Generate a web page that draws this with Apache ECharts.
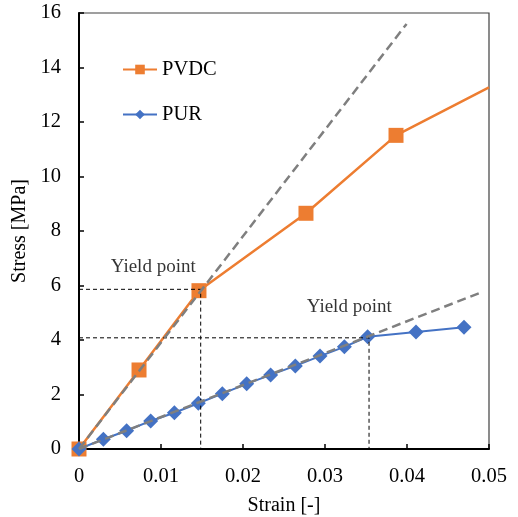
<!DOCTYPE html>
<html>
<head>
<meta charset="utf-8">
<script src="https://cdn.jsdelivr.net/npm/echarts@6/dist/echarts.min.js"></script>
<style>
  html, body { margin: 0; padding: 0; background: #fff; }
  #main { width: 518px; height: 517px; }
</style>
</head>
<body>
<div id="main"></div>
<script>
// measured points [strain, stress MPa]
var pvdc = [[0, 0], [0.00732, 2.90], [0.01463, 5.81], [0.02768, 8.65], [0.03866, 11.51]];
var pvdcEdge = [0.05, 13.27]; // line runs on to the plot edge, no marker there
var pur = [[0, 0], [0.00297, 0.36], [0.00581, 0.67], [0.00874, 1.03], [0.01163, 1.33], [0.01455, 1.68],
  [0.01748, 2.03], [0.02045, 2.39], [0.02337, 2.72], [0.02638, 3.05], [0.02939, 3.41], [0.03236, 3.75],
  [0.0352, 4.12], [0.0411, 4.29], [0.04695, 4.47]];
// linear fits (dashed gray)
var pvdcFit = [[0, 0], [0.03995, 15.6]];
var purFit = [[0, 0], [0.04923, 5.77]];
// yield point guide lines
var pvdcYield = [[0, 5.86], [0.01484, 5.86], [0.01484, 0]];
var purYield = [[0, 4.08], [0.03537, 4.08], [0.03537, 0]];
var yieldLabels = [[0.00387, 6.69, 'Yield point'], [0.02777, 5.21, 'Yield point']];

var font = 'Liberation Serif, Times New Roman, serif';
var chart = echarts.init(document.getElementById('main'));

function guide(d) {
  return {
    type: 'line', data: d, symbol: 'none', silent: true, z: 4,
    lineStyle: { color: '#000', width: 1, type: [4, 3] }
  };
}
function fit(d) {
  return {
    type: 'line', data: d, symbol: 'none', silent: true, z: 5,
    lineStyle: { color: '#7f7f7f', width: 2.5, type: [9, 5] }
  };
}

chart.setOption({
  animation: false,
  grid: {
    left: 79, right: 29, top: 13, bottom: 68, outerBoundsMode: 'none',
    show: true, borderColor: '#404040', borderWidth: 1.2
  },
  legend: {
    data: ['PVDC', 'PUR'],
    orient: 'vertical', left: 117, top: 54,
    itemWidth: 34, itemHeight: 12, itemGap: 24,
    textStyle: { fontFamily: font, fontSize: 20.5, color: '#000' }
  },
  xAxis: {
    type: 'value', min: 0, max: 0.05, interval: 0.01,
    name: 'Strain [-]', nameLocation: 'middle', nameGap: 47,
    nameTextStyle: { fontFamily: font, fontSize: 20, color: '#000' },
    axisLine: { lineStyle: { color: '#000', width: 2 } },
    axisTick: { inside: true, length: 5, lineStyle: { color: '#000', width: 1.5 } },
    axisLabel: { fontFamily: font, fontSize: 20.5, color: '#000', margin: 17 },
    splitLine: { show: false }
  },
  yAxis: {
    type: 'value', min: 0, max: 16, interval: 2,
    name: 'Stress [MPa]', nameLocation: 'middle', nameGap: 43,
    nameTextStyle: { fontFamily: font, fontSize: 20, color: '#000' },
    axisLine: { lineStyle: { color: '#000', width: 2 } },
    axisTick: { inside: true, length: 5, lineStyle: { color: '#000', width: 1.5 } },
    axisLabel: { fontFamily: font, fontSize: 20.5, color: '#000', margin: 18 },
    splitLine: { show: false }
  },
  series: [
    {
      name: 'PVDC', type: 'line', z: 2,
      data: pvdc.concat([{ value: pvdcEdge, symbol: 'none' }]),
      symbol: 'rect', symbolSize: 15,
      itemStyle: { color: '#ED7D31' },
      lineStyle: { color: '#ED7D31', width: 2.5 }
    },
    {
      name: 'PUR', type: 'line', data: pur, z: 3,
      symbol: 'diamond', symbolSize: 15,
      itemStyle: { color: '#4472C4' },
      lineStyle: { color: '#4472C4', width: 2 }
    },
    guide(pvdcYield),
    guide(purYield),
    fit(pvdcFit),
    fit(purFit),
    {
      type: 'scatter', data: yieldLabels, symbolSize: 0, silent: true, z: 6,
      label: {
        show: true, position: 'right', distance: 0,
        formatter: function (p) { return p.value[2]; },
        fontFamily: font, fontSize: 19, color: '#000'
      }
    }
  ]
});
</script>
</body>
</html>
